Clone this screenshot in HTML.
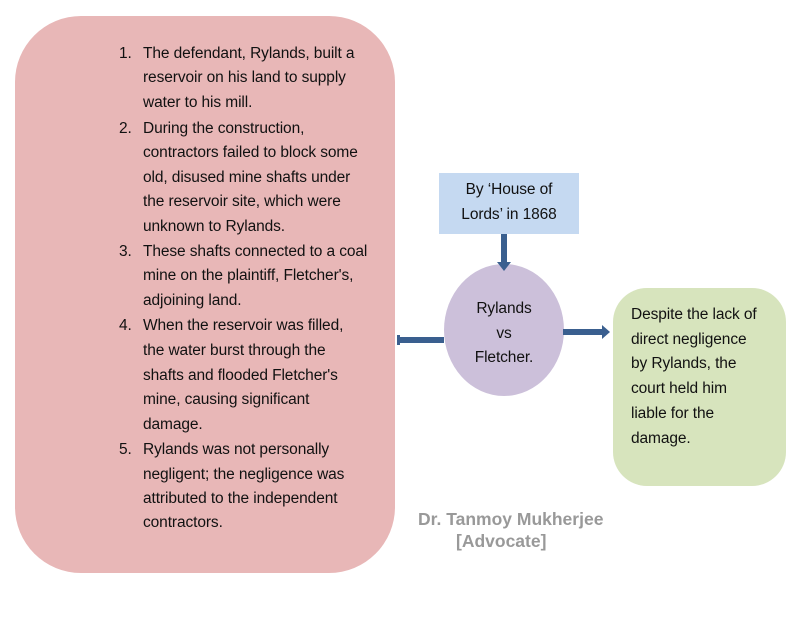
<!DOCTYPE html>
<html><head><style>
body{margin:0;width:795px;height:633px;background:#fff;position:relative;overflow:hidden;font-family:"Liberation Sans",sans-serif;}
.a{position:absolute;}
.l{position:absolute;font-size:15.5px;color:#111;white-space:nowrap;letter-spacing:-0.1px;line-height:16px;margin-top:2px;}
</style></head><body>
<div class="a" style="left:15px;top:16px;width:380px;height:557px;background:#e8b7b7;border-radius:66px;"></div>
<div class="a" style="left:439px;top:173px;width:140px;height:61px;background:#c5d9f1;"></div>
<div class="a" style="left:444px;top:264px;width:120px;height:132px;background:#ccc0da;border-radius:50%;"></div>
<div class="a" style="left:613px;top:288px;width:173px;height:198px;background:#d7e4bd;border-radius:34px;"></div>
<svg class="a" style="left:0;top:0" width="795" height="633">
<rect x="501" y="234" width="6" height="30" fill="#3a5f8f"/>
<polygon points="497,262 511,262 504,271" fill="#3a5f8f"/>
<rect x="398" y="337" width="46" height="6" fill="#3a5f8f"/>
<rect x="397" y="335" width="3" height="10" fill="#3a5f8f"/>
<rect x="563" y="329" width="40" height="6" fill="#3a5f8f"/>
<polygon points="602,325 602,339 610,332" fill="#3a5f8f"/>
</svg>
<div class="l" style="left:119px;top:44px">1.</div>
<div class="l" style="left:143px;top:44px">The defendant, Rylands, built a</div>
<div class="l" style="left:143px;top:68px">reservoir on his land to supply</div>
<div class="l" style="left:143px;top:93px">water to his mill.</div>
<div class="l" style="left:119px;top:119px">2.</div>
<div class="l" style="left:143px;top:119px">During the construction,</div>
<div class="l" style="left:143px;top:143px">contractors failed to block some</div>
<div class="l" style="left:143px;top:168px">old, disused mine shafts under</div>
<div class="l" style="left:143px;top:192px">the reservoir site, which were</div>
<div class="l" style="left:143px;top:217px">unknown to Rylands.</div>
<div class="l" style="left:119px;top:242px">3.</div>
<div class="l" style="left:143px;top:242px">These shafts connected to a coal</div>
<div class="l" style="left:143px;top:266px">mine on the plaintiff, Fletcher's,</div>
<div class="l" style="left:143px;top:291px">adjoining land.</div>
<div class="l" style="left:119px;top:316px">4.</div>
<div class="l" style="left:143px;top:316px">When the reservoir was filled,</div>
<div class="l" style="left:143px;top:341px">the water burst through the</div>
<div class="l" style="left:143px;top:366px">shafts and flooded Fletcher's</div>
<div class="l" style="left:143px;top:390px">mine, causing significant</div>
<div class="l" style="left:143px;top:415px">damage.</div>
<div class="l" style="left:119px;top:440px">5.</div>
<div class="l" style="left:143px;top:440px">Rylands was not personally</div>
<div class="l" style="left:143px;top:465px">negligent; the negligence was</div>
<div class="l" style="left:143px;top:489px">attributed to the independent</div>
<div class="l" style="left:143px;top:513px">contractors.</div>
<div class="l" style="left:439px;width:140px;text-align:center;top:180px">By ‘House of</div>
<div class="l" style="left:439px;width:140px;text-align:center;top:205px">Lords’ in 1868</div>
<div class="l" style="left:444px;width:120px;text-align:center;top:299px">Rylands</div>
<div class="l" style="left:444px;width:120px;text-align:center;top:324px">vs</div>
<div class="l" style="left:444px;width:120px;text-align:center;top:348px">Fletcher.</div>
<div class="l" style="left:631px;top:305px">Despite the lack of</div>
<div class="l" style="left:631px;top:330px">direct negligence</div>
<div class="l" style="left:631px;top:354px">by Rylands, the</div>
<div class="l" style="left:631px;top:379px">court held him</div>
<div class="l" style="left:631px;top:404px">liable for the</div>
<div class="l" style="left:631px;top:429px">damage.</div>
<div class="a" style="left:418px;top:509px;font-size:17.5px;font-weight:bold;color:#999;white-space:nowrap;">Dr. Tanmoy Mukherjee</div>
<div class="a" style="left:456px;top:531px;font-size:17.5px;font-weight:bold;color:#999;white-space:nowrap;">[Advocate]</div>
</body></html>
